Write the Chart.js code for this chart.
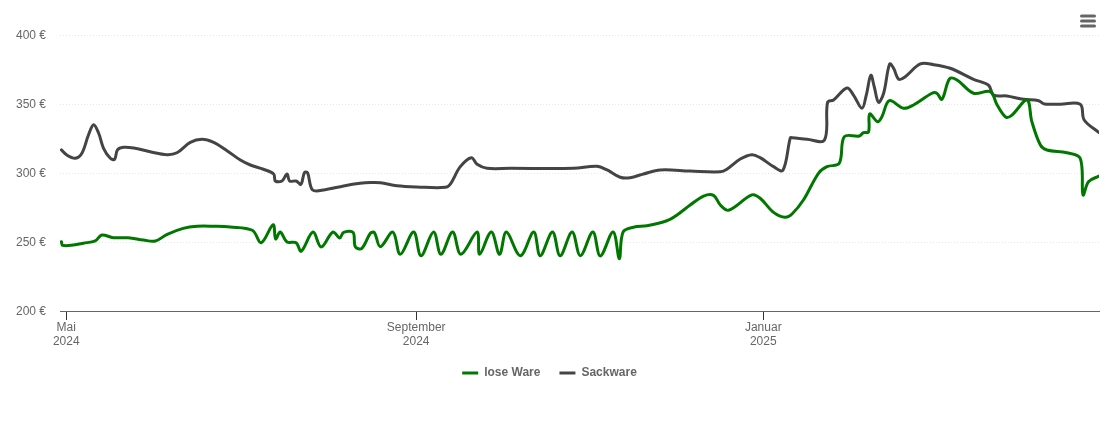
<!DOCTYPE html>
<html lang="de">
<head>
<meta charset="utf-8">
<title>Preisverlauf</title>
<style>
  html, body { margin: 0; padding: 0; background: #fff; }
  canvas { display: block; }
</style>
</head>
<body>
<canvas id="chart" width="1110" height="422"></canvas>
<script src="https://cdn.jsdelivr.net/npm/chart.js@4/dist/chart.umd.min.js"></script>
<script>
// days since 1 May 2024
const tickDays = [0, 123, 245];
const tickLabels = [['Mai', '2024'], ['September', '2024'], ['Januar', '2025']];
const yTicks = [200, 250, 300, 350, 400];

const loseDays = [-1.7, -1.3, 2.5, 6, 10.2, 12.5, 16.5, 21.8, 27.1, 31.3, 35.5, 41.1, 46, 51.7, 57.6, 65.4, 68.5, 72.7, 73.6, 75.2, 77.6, 80.8, 82.6, 86.7, 89.6, 93.7, 96.1, 97.5, 100.8, 101.6, 103.9, 106.9, 108.3, 110.4, 114.8, 117.4, 122.1, 124.7, 129.1, 131.7, 135.8, 138.7, 144.4, 145.3, 149.4, 152.3, 154.7, 159.6, 164.3, 166.6, 170.9, 173.6, 177.8, 180.7, 185.1, 187.7, 192.2, 194.4, 195.7, 199.4, 204.1, 211.1, 214.7, 219.3, 224, 227.5, 229.9, 232.8, 241, 243.9, 248.6, 252.7, 255.1, 259.1, 264.4, 267.4, 271.7, 273.5, 278.8, 280.2, 282, 282.4, 285.2, 286.7, 289.3, 294.3, 297.8, 304.3, 306, 307.8, 310.5, 313.1, 318.9, 324.8, 327.2, 330.3, 332.4, 337.7, 339.4, 342.4, 344.7, 351.7, 356.4, 357.4, 359.3, 363];
const loseWare = [250.2, 247.6, 247.8, 249.1, 250.9, 255.1, 253.1, 253.1, 251.4, 250.7, 255.6, 259.9, 261.4, 261.4, 260.9, 258.5, 249.5, 262.5, 252.2, 257.2, 250, 249.5, 243.3, 257.2, 246.4, 257.2, 252.9, 257, 257, 246.6, 245.4, 256.3, 256.8, 246.6, 257.2, 241.1, 257.2, 240.1, 257.2, 241.1, 257.2, 241.1, 257.2, 241.1, 257.2, 241.1, 257.2, 240.1, 257.2, 240.1, 257.2, 240.1, 257.2, 240.1, 257.2, 239.9, 257.2, 237.9, 257.2, 260.7, 261.8, 265.4, 269.6, 276.8, 283.3, 283.8, 276.8, 273, 284.1, 281.7, 271.5, 267.9, 270.3, 280.4, 299.8, 304.6, 307, 326.3, 326.8, 329.2, 329.7, 342.8, 337.2, 340.8, 352.4, 346.9, 349.3, 357.8, 357.8, 353.4, 368.3, 367.4, 357.8, 358.9, 349.3, 340.4, 342, 352.9, 337.2, 320.3, 316.7, 314.7, 310.7, 284.1, 293.7, 297.8];

const sackDays = [-1.7, 0.2, 3.2, 5.5, 7.8, 9.6, 11.4, 13.1, 15.5, 17, 18, 20.1, 23.7, 29.5, 35.4, 38.9, 43.6, 47.7, 51.8, 56.5, 61.2, 64.7, 69.3, 72.9, 73.5, 75.8, 77.6, 78.5, 80.8, 82.5, 83.7, 84.8, 86.6, 91, 97.5, 103.3, 106.9, 110.4, 116.2, 123.3, 133.2, 135, 138.5, 142.4, 144.4, 147.9, 156.1, 178.3, 186.5, 190.1, 194.7, 198.2, 202.9, 208.8, 219.3, 229.9, 232.2, 236.9, 241, 243.9, 248.6, 251.9, 254.5, 255.2, 260.4, 266.5, 267.6, 269.7, 274.4, 276.7, 279.7, 281.2, 282.8, 284, 285.5, 287.3, 289.4, 290.8, 292.6, 294.9, 300.2, 304.9, 310.7, 318.9, 324.2, 325.9, 330.6, 336.5, 341.8, 343.8, 349.4, 356.4, 357.8, 363];
const sackware = [316.7, 313, 310.7, 314.3, 327.5, 335, 328.8, 317.9, 310.7, 309.9, 316.7, 318.6, 318.1, 315.4, 313.3, 314.7, 322.2, 324.4, 322.2, 316.2, 309.4, 305.8, 302.7, 299.3, 294.2, 294.2, 299.3, 294.2, 294.2, 291.8, 300.2, 300.2, 287.7, 287.9, 290.6, 292.5, 293.1, 293, 290.8, 289.9, 289.6, 292, 304.6, 311.1, 306.3, 303.4, 303.4, 303.4, 304.9, 302.2, 296.9, 296.6, 299.3, 302.2, 301.4, 300.9, 302.7, 310.1, 313.3, 311.1, 304.6, 302, 325.4, 325.6, 324.4, 323.9, 351.2, 352.9, 361.6, 356.5, 346.9, 356.5, 370.8, 362.5, 351.2, 357.8, 379, 375.9, 367.9, 369.8, 379, 378.5, 375.9, 367.9, 363.6, 356.5, 355.8, 353.4, 352.4, 350, 349.9, 349.8, 338.4, 329.2];

const toPoints = (xs, ys) => xs.map((x, i) => ({ x: x, y: ys[i] }));

// the little menu icon, top right
const menuIcon = {
  id: 'menuIcon',
  afterDraw(chart) {
    const ctx = chart.ctx;
    ctx.save();
    ctx.strokeStyle = '#666';
    ctx.lineWidth = 3;
    ctx.lineCap = 'round';
    [16, 21, 26].forEach(y => {
      ctx.beginPath();
      ctx.moveTo(1081.5, y);
      ctx.lineTo(1094.5, y);
      ctx.stroke();
    });
    ctx.restore();
  }
};

Chart.defaults.font.family = '"Liberation Sans", Arial, sans-serif';
Chart.defaults.font.size = 12;
Chart.defaults.color = '#666';

new Chart(document.getElementById('chart'), {
  type: 'line',
  plugins: [menuIcon],
  data: {
    datasets: [
      { label: 'lose Ware', data: toPoints(loseDays, loseWare), borderColor: '#007800', backgroundColor: '#007800', borderWidth: 3, order: 1 },
      { label: 'Sackware', data: toPoints(sackDays, sackware), borderColor: '#444444', backgroundColor: '#444444', borderWidth: 3, order: 2 }
    ]
  },
  options: {
    responsive: false,
    animation: false,
    layout: { padding: { top: 35, right: 11, bottom: 33, left: 0 } },
    elements: {
      point: { radius: 0, hoverRadius: 3 },
      line: { tension: 0.35, borderCapStyle: 'round', borderJoinStyle: 'round' }
    },
    plugins: {
      legend: {
        position: 'bottom',
        labels: {
          usePointStyle: true,
          pointStyle: 'line',
          pointStyleWidth: 16,
          padding: 19,
          color: '#666',
          font: { weight: 'bold', size: 12 }
        }
      }
    },
    scales: {
      x: {
        type: 'linear',
        min: -2.2,
        max: 363,
        afterBuildTicks: s => { s.ticks = tickDays.map(v => ({ value: v })); },
        afterFit: s => { s.height = 37; },
        border: { color: '#666', width: 1 },
        grid: { drawOnChartArea: false, drawTicks: true, tickLength: 9, color: '#333' },
        ticks: {
          autoSkip: false,
          maxRotation: 0,
          padding: 0,
          color: '#666',
          callback: v => tickLabels[tickDays.indexOf(v)]
        }
      },
      y: {
        min: 200,
        max: 400,
        afterBuildTicks: s => { s.ticks = yTicks.map(v => ({ value: v })); },
        afterFit: s => { s.width = 60; },
        border: { display: false, dash: [1, 2] },
        grid: { drawTicks: false, color: '#e6e6e6', lineWidth: 1 },
        ticks: { padding: 14, labelOffset: 1, color: '#666', callback: v => v + ' €' }
      }
    }
  }
});
</script>
</body>
</html>
